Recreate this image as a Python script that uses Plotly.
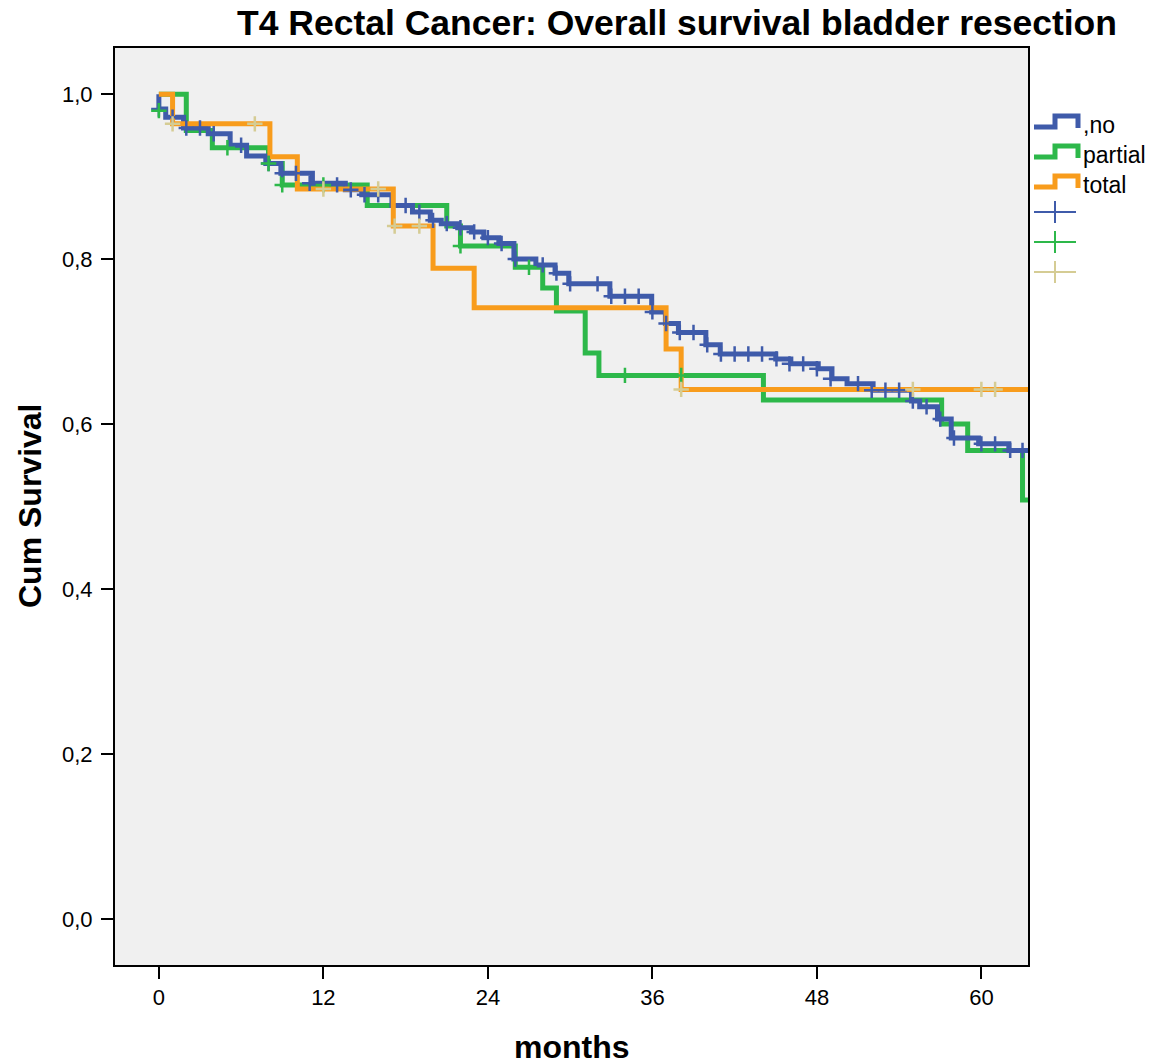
import plotly.graph_objects as go

# ---------------- data ----------------
# Kaplan-Meier step curves: time of each step (months) and survival after it
no_t = [0.0, 0.0, 0.5, 1.8, 3.6, 5.2, 6.4, 7.8, 8.9, 11.2, 13.6, 14.8, 17.0, 18.5, 19.8, 20.6,
        21.8, 22.8, 23.7, 24.8, 25.9, 27.5, 28.9, 29.9, 32.9, 35.95, 36.95, 37.9, 39.9, 40.95,
        45.0, 46.1, 48.1, 49.1, 50.2, 52.1, 54.9, 55.5, 56.8, 57.8, 59.8, 62.0, 63.4]
no_s = [1.0, 0.982, 0.972, 0.959, 0.952, 0.938, 0.925, 0.916, 0.904, 0.892, 0.884, 0.878, 0.865,
        0.857, 0.847, 0.843, 0.838, 0.833, 0.826, 0.819, 0.800, 0.793, 0.783, 0.770, 0.755, 0.736,
        0.722, 0.711, 0.696, 0.685, 0.679, 0.673, 0.667, 0.655, 0.649, 0.641, 0.628, 0.621, 0.606,
        0.583, 0.576, 0.568, 0.568]

partial_t = [0.0, 2.0, 3.9, 8.0, 9.0, 15.2, 21.0, 22.0, 26.0, 28.0, 29.0, 31.1, 32.1, 44.1,
             57.1, 59.0, 63.0, 63.4]
partial_s = [1.0, 0.956, 0.935, 0.916, 0.890, 0.865, 0.840, 0.816, 0.790, 0.765, 0.737, 0.686,
             0.659, 0.629, 0.600, 0.568, 0.508, 0.508]

total_t = [0.0, 1.0, 8.1, 10.1, 17.1, 20.0, 23.0, 37.0, 38.1, 63.4]
total_s = [1.0, 0.964, 0.924, 0.885, 0.840, 0.789, 0.741, 0.691, 0.642, 0.642]

# censored observations
no_cens_t = [0, 1, 2, 3, 4, 6, 8, 9, 10, 11, 13, 14, 15, 16, 18, 19, 20, 21, 22, 23, 24, 25,
             26, 28, 29, 30, 32, 33, 34, 35, 36, 37, 38, 39, 40, 41, 42, 43, 44, 45.05, 46, 47,
             48, 49, 51, 52, 53, 54, 55, 56, 57, 58, 60, 61, 62.1, 63]
no_cens_s = [0.982, 0.972, 0.959, 0.959, 0.952, 0.938, 0.916, 0.904, 0.904, 0.892, 0.890, 0.884,
             0.878, 0.878, 0.865, 0.857, 0.847, 0.843, 0.838, 0.833, 0.826, 0.819, 0.800, 0.793,
             0.783, 0.770, 0.770, 0.755, 0.755, 0.755, 0.736, 0.722, 0.711, 0.711, 0.696, 0.685,
             0.685, 0.685, 0.685, 0.679, 0.673, 0.673, 0.667, 0.655, 0.649, 0.641, 0.641, 0.641,
             0.628, 0.621, 0.606, 0.583, 0.576, 0.576, 0.568, 0.568]

partial_cens_t = [0, 5, 8, 9, 12, 22, 27, 34, 38.1]
partial_cens_s = [0.980, 0.935, 0.916, 0.890, 0.890, 0.816, 0.790, 0.659, 0.659]

total_cens_t = [1, 7, 12, 16, 17.2, 19, 38.1, 55, 60, 61]
total_cens_s = [0.964, 0.964, 0.885, 0.885, 0.840, 0.840, 0.642, 0.642, 0.642, 0.642]

group_labels = [",no", "partial", "total"]
x_ticks = [0, 12, 24, 36, 48, 60]
y_ticks = [0.0, 0.2, 0.4, 0.6, 0.8, 1.0]
y_tick_labels = ["0,0", "0,2", "0,4", "0,6", "0,8", "1,0"]

# ---------------- styling ----------------
BLUE = "#3F5BAA"
GREEN = "#2DB84A"
ORANGE = "#F89C1C"
TAN = "#D5CC94"
FONT = "Liberation Sans, Arial, sans-serif"

W, H = 1155, 1064
L, R, T, B = 115, 1028, 48, 965  # plot area in pixels

fig = go.Figure()

for t, s, c in [(partial_t, partial_s, GREEN), (no_t, no_s, BLUE), (total_t, total_s, ORANGE)]:
    fig.add_trace(go.Scatter(x=t, y=s, mode="lines", line=dict(color=c, width=5, shape="hv"),
                             showlegend=False, hoverinfo="skip"))

for t, s, c in [(no_cens_t, no_cens_s, BLUE), (partial_cens_t, partial_cens_s, GREEN),
                (total_cens_t, total_cens_s, TAN)]:
    fig.add_trace(go.Scatter(x=t, y=s, mode="markers",
                             marker=dict(symbol="cross-thin", size=11,
                                         line=dict(color=c, width=2.5)),
                             showlegend=False, hoverinfo="skip"))


def px(x):
    return (x - L) / (R - L)


def py(y):
    return (B - y) / (B - T)


# custom SPSS-style legend
shapes = []
annotations = []
for i, (lab, c) in enumerate(zip(group_labels, [BLUE, GREEN, ORANGE])):
    yb = 127 + 30 * i
    yt = yb - 11
    path = (f"M {px(1034)},{py(yb)} L {px(1055)},{py(yb)} L {px(1055)},{py(yt)} "
            f"L {px(1078)},{py(yt)} L {px(1078)},{py(yb + 1)}")
    shapes.append(dict(type="path", xref="paper", yref="paper", path=path,
                       line=dict(color=c, width=5)))
    annotations.append(dict(xref="paper", yref="paper", x=px(1081), y=py(yb - 2), text=lab,
                            showarrow=False, xanchor="left", yanchor="middle",
                            font=dict(family=FONT, size=23, color="black")))
for i, c in enumerate([BLUE, GREEN, TAN]):
    yc = 212 + 30 * i
    shapes.append(dict(type="line", xref="paper", yref="paper", x0=px(1034), x1=px(1076),
                       y0=py(yc), y1=py(yc), line=dict(color=c, width=2)))
    shapes.append(dict(type="line", xref="paper", yref="paper", x0=px(1055), x1=px(1055),
                       y0=py(yc - 11), y1=py(yc + 11), line=dict(color=c, width=2)))

annotations.append(dict(xref="paper", yref="paper", x=px(572), y=py(1047), text="<b>months</b>",
                        showarrow=False, xanchor="center", yanchor="middle",
                        font=dict(family=FONT, size=32, color="black")))
annotations.append(dict(xref="paper", yref="paper", x=px(30), y=py(506), text="<b>Cum Survival</b>",
                        showarrow=False, xanchor="center", yanchor="middle", textangle=-90,
                        font=dict(family=FONT, size=32, color="black")))

fig.update_layout(
    width=W, height=H,
    margin=dict(l=L, r=W - R, t=T, b=H - B, pad=0),
    paper_bgcolor="white", plot_bgcolor="#F0F0F0",
    title=dict(text="<b>T4 Rectal Cancer: Overall survival bladder resection</b>",
               x=677 / W, xref="container", xanchor="center",
               y=1 - 23 / H, yref="container", yanchor="middle",
               font=dict(family=FONT, size=35.5, color="black")),
    shapes=shapes, annotations=annotations,
    showlegend=False,
)
fig.update_xaxes(range=[-3.2, 63.4], tickvals=x_ticks, ticktext=[str(v) for v in x_ticks],
                 showgrid=False, zeroline=False, showline=True, mirror=True,
                 linecolor="black", linewidth=2, ticks="outside", ticklen=12, tickwidth=2,
                 tickcolor="black", tickfont=dict(family=FONT, size=22, color="black"))
fig.update_yaxes(range=[-0.056, 1.056], tickvals=y_ticks, ticktext=y_tick_labels,
                 showgrid=False, zeroline=False, showline=True, mirror=True,
                 linecolor="black", linewidth=2, ticks="outside", ticklen=12, tickwidth=2,
                 ticklabelstandoff=4,
                 tickcolor="black", tickfont=dict(family=FONT, size=22, color="black"))

fig.write_html("out.html", config={"displayModeBar": False},
               post_script="document.body.style.margin='0px';")
